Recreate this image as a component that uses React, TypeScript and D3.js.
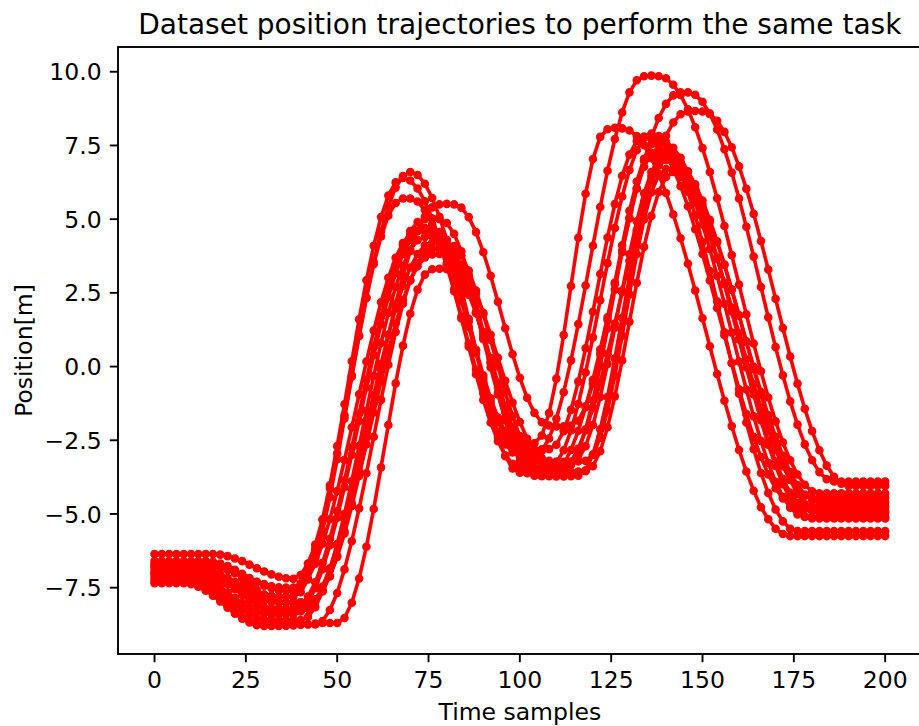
import React from "react";
import * as d3 from "d3";

const W = 919;
const H = 726;
const PLOT = { left: 118, right: 921.7, top: 47, bottom: 654 };

const xTicks = [0, 25, 50, 75, 100, 125, 150, 175, 200];
const yTicks = [-7.5, -5.0, -2.5, 0.0, 2.5, 5.0, 7.5, 10.0];
const titleText = "Dataset position trajectories to perform the same task";
const xLabel = "Time samples";
const yLabel = "Position[m]";

// sample indices (every 2nd time sample)
const timeSamples = d3.range(0, 201, 2);

const traj01 = [
  -6.36, -6.36, -6.36, -6.36, -6.36, -6.36, -6.36, -6.36, -6.36,
  -6.38, -6.43, -6.51, -6.6, -6.72, -6.84, -6.95, -7.05, -7.13, -7.18, -7.2,
  -7.07, -6.68, -6.04, -5.18, -4.13, -2.94, -1.65, -0.3, 1.05, 2.34, 3.54, 4.58, 5.44, 6.07, 6.46, 6.6,
  6.5, 6.2, 5.72, 5.08, 4.3, 3.42, 2.48, 1.52, 0.57, -0.3, -1.08, -1.73, -2.2, -2.5, -2.6,
  -2.62, -2.6,
  -2.34, -1.58, -0.41, 1.07, 2.73, 4.37, 5.86, 7.04, 7.79, 8.05,
  8.1, 8.08,
  8.01, 7.82, 7.51, 7.07, 6.53, 5.89, 5.16, 4.35, 3.49, 2.58, 1.64, 0.69, -0.25, -1.16, -2.02, -2.83, -3.56, -4.21, -4.77, -5.18, -5.5, -5.68,
  -5.75, -5.75, -5.75, -5.75, -5.75, -5.75, -5.75, -5.75, -5.75, -5.75, -5.75, -5.75, -5.75, -5.75,
];

const traj02 = [
  -6.7, -6.7, -6.7, -6.7, -6.7, -6.7, -6.7,
  -6.71, -6.75, -6.82, -6.9, -7.0, -7.1, -7.2, -7.3, -7.38, -7.45, -7.49, -7.5,
  -7.5,
  -7.35, -6.9, -6.17, -5.2, -4.03, -2.7, -1.28, 0.18, 1.6, 2.93, 4.1, 5.07, 5.8, 6.25, 6.4,
  6.31, 6.04, 5.61, 5.02, 4.31, 3.5, 2.62, 1.7, 0.78, -0.1, -0.91, -1.62, -2.21, -2.64, -2.91, -3.0,
  -3.02, -3.0,
  -2.86, -2.44, -1.77, -0.87, 0.21, 1.44, 2.75, 4.1, 5.41, 6.64, 7.72, 8.62, 9.3, 9.71, 9.85,
  9.87, 9.85,
  9.78, 9.56, 9.21, 8.73, 8.12, 7.41, 6.6, 5.71, 4.77, 3.78, 2.78, 1.77, 0.78, -0.16, -1.05, -1.86, -2.57, -3.18, -3.66, -4.01, -4.23, -4.3,
  -4.3, -4.3, -4.3, -4.3, -4.3, -4.3, -4.3, -4.3, -4.3,
];

const traj03 = [
  -6.8, -6.8, -6.8, -6.8, -6.8, -6.8,
  -6.82, -6.87, -6.95, -7.05, -7.17, -7.3, -7.43, -7.55, -7.65, -7.73, -7.78, -7.8,
  -7.8, -7.8,
  -7.65, -7.22, -6.51, -5.57, -4.43, -3.14, -1.76, -0.34, 1.04, 2.33, 3.47, 4.41, 5.12, 5.55, 5.7,
  5.7,
  5.6, 5.31, 4.83, 4.2, 3.43, 2.56, 1.63, 0.67, -0.26, -1.13, -1.9, -2.53, -3.01, -3.3, -3.4,
  -3.42, -3.42, -3.41, -3.4,
  -3.26, -2.84, -2.17, -1.27, -0.2, 0.99, 2.25, 3.51, 4.7, 5.77, 6.67, 7.34, 7.76, 7.9,
  7.82, 7.57, 7.17, 6.61, 5.93, 5.12, 4.22, 3.24, 2.21, 1.16, 0.11, -0.92, -1.9, -2.8, -3.61, -4.29, -4.85, -5.25, -5.5, -5.58,
  -5.58, -5.58, -5.58, -5.58, -5.58, -5.58, -5.58, -5.58, -5.58, -5.58, -5.58, -5.58,
];

const traj04 = [
  -7.0, -7.0, -7.0, -7.0, -7.0, -7.0,
  -7.02, -7.07, -7.15, -7.25, -7.37, -7.5, -7.63, -7.75, -7.85, -7.93, -7.98, -8.0,
  -8.0, -8.0, -8.0, -8.0,
  -7.9, -7.59, -7.1, -6.42, -5.59, -4.63, -3.56, -2.42, -1.25, -0.08, 1.06, 2.13, 3.09, 3.92, 4.6, 5.09, 5.4, 5.5,
  5.52, 5.5,
  5.39, 5.07, 4.56, 3.88, 3.08, 2.2, 1.3, 0.42, -0.38, -1.06, -1.57, -1.89, -2.0,
  -2.03, -2.03, -2.0,
  -1.84, -1.35, -0.58, 0.43, 1.59, 2.85, 4.11, 5.28, 6.28, 7.05, 7.54, 7.7,
  7.63, 7.42, 7.08, 6.61, 6.02, 5.33, 4.55, 3.7, 2.8, 1.87, 0.93, 0.0, -0.9, -1.75, -2.53, -3.22, -3.81, -4.28, -4.62, -4.83, -4.9,
  -4.9, -4.9, -4.9, -4.9, -4.9, -4.9, -4.9, -4.9, -4.9, -4.9,
];

const traj05 = [
  -6.9, -6.9, -6.9, -6.9, -6.9, -6.9, -6.9,
  -6.93, -7.02, -7.17, -7.35, -7.55, -7.75, -7.93, -8.08, -8.17, -8.2,
  -8.2, -8.2, -8.2,
  -8.1, -7.8, -7.32, -6.66, -5.84, -4.9, -3.86, -2.75, -1.6, -0.45, 0.66, 1.7, 2.64, 3.46, 4.12, 4.6, 4.9, 5.0,
  5.02, 5.0,
  4.87, 4.5, 3.91, 3.12, 2.19, 1.17, 0.13, -0.89, -1.82, -2.61, -3.2, -3.57, -3.7,
  -3.72, -3.7,
  -3.6, -3.31, -2.83, -2.18, -1.38, -0.45, 0.58, 1.67, 2.8, 3.93, 5.02, 6.05, 6.98, 7.78, 8.43, 8.91, 9.2, 9.3,
  9.3,
  9.22, 8.98, 8.58, 8.04, 7.37, 6.58, 5.7, 4.74, 3.73, 2.7, 1.67, 0.66, -0.3, -1.18, -1.97, -2.64, -3.18, -3.58, -3.82, -3.9,
  -3.9, -3.9, -3.9, -3.9, -3.9, -3.9, -3.9,
];

const traj06 = [
  -7.1, -7.1, -7.1, -7.1, -7.1, -7.1,
  -7.13, -7.2, -7.32, -7.48, -7.66, -7.84, -8.02, -8.18, -8.3, -8.37, -8.4,
  -8.4, -8.4, -8.4,
  -8.3, -8.0, -7.52, -6.87, -6.06, -5.13, -4.09, -2.99, -1.85, -0.71, 0.39, 1.43, 2.36, 3.17, 3.82, 4.3, 4.6, 4.7,
  4.7,
  4.56, 4.14, 3.49, 2.63, 1.62, 0.55, -0.52, -1.53, -2.39, -3.04, -3.46, -3.6,
  -3.62, -3.63, -3.62, -3.61, -3.6,
  -3.51, -3.23, -2.78, -2.17, -1.41, -0.54, 0.43, 1.46, 2.53, 3.59, 4.62, 5.59, 6.46, 7.22, 7.83, 8.28, 8.56, 8.65,
  8.67, 8.65,
  8.57, 8.34, 7.96, 7.44, 6.79, 6.03, 5.18, 4.26, 3.29, 2.3, 1.31, 0.34, -0.58, -1.43, -2.19, -2.84, -3.36, -3.74, -3.97, -4.05,
  -4.05, -4.05, -4.05, -4.05, -4.05,
];

const traj07 = [
  -7.2, -7.2, -7.2, -7.2, -7.2,
  -7.22, -7.29, -7.4, -7.55, -7.72, -7.9, -8.08, -8.25, -8.4, -8.51, -8.58, -8.6,
  -8.6, -8.6, -8.6, -8.6,
  -8.49, -8.16, -7.63, -6.9, -6.02, -5.0, -3.88, -2.7, -1.5, -0.32, 0.8, 1.82, 2.7, 3.43, 3.96, 4.29, 4.4,
  4.42, 4.4,
  4.29, 3.95, 3.41, 2.69, 1.85, 0.93, -0.03, -0.95, -1.79, -2.51, -3.05, -3.38, -3.5,
  -3.52, -3.52, -3.51, -3.5,
  -3.34, -2.88, -2.13, -1.15, 0.02, 1.29, 2.61, 3.88, 5.05, 6.03, 6.78, 7.24, 7.4,
  7.32, 7.09, 6.72, 6.21, 5.57, 4.82, 3.99, 3.08, 2.13, 1.15, 0.17, -0.78, -1.69, -2.52, -3.27, -3.91, -4.42, -4.79, -5.02, -5.1,
  -5.1, -5.1, -5.1, -5.1, -5.1, -5.1, -5.1, -5.1, -5.1, -5.1, -5.1,
];

const traj08 = [
  -7.0, -7.0, -7.0, -7.0, -7.0, -7.0, -7.0, -7.0,
  -7.03, -7.12, -7.27, -7.45, -7.65, -7.85, -8.03, -8.18, -8.27, -8.3,
  -8.3, -8.3, -8.3,
  -8.21, -7.92, -7.46, -6.84, -6.07, -5.18, -4.19, -3.14, -2.05, -0.97, 0.09, 1.08, 1.97, 2.74, 3.36, 3.82, 4.11, 4.2,
  4.22, 4.2,
  4.09, 3.77, 3.26, 2.58, 1.78, 0.9, 0.0, -0.88, -1.68, -2.36, -2.87, -3.19, -3.3,
  -3.32, -3.33, -3.32, -3.3,
  -3.15, -2.7, -1.98, -1.03, 0.09, 1.32, 2.58, 3.81, 4.93, 5.88, 6.6, 7.05, 7.2,
  7.13, 6.94, 6.62, 6.18, 5.63, 4.98, 4.25, 3.46, 2.61, 1.74, 0.86, -0.01, -0.86, -1.65, -2.38, -3.03, -3.58, -4.02, -4.34, -4.53, -4.6,
  -4.6, -4.6, -4.6, -4.6, -4.6, -4.6, -4.6, -4.6, -4.6,
];

const traj09 = [
  -7.3, -7.3, -7.3, -7.3, -7.3,
  -7.33, -7.42, -7.55, -7.72, -7.92, -8.13, -8.33, -8.5, -8.63, -8.72, -8.75,
  -8.75, -8.75, -8.75, -8.75, -8.75, -8.75, -8.75,
  -8.63, -8.26, -7.68, -6.88, -5.92, -4.81, -3.62, -2.38, -1.13, 0.06, 1.17, 2.13, 2.93, 3.51, 3.88, 4.0,
  4.0,
  3.9, 3.62, 3.16, 2.55, 1.82, 1.01, 0.15, -0.71, -1.52, -2.25, -2.86, -3.32, -3.6, -3.7,
  -3.72, -3.73, -3.73, -3.72, -3.7,
  -3.52, -2.98, -2.13, -1.03, 0.27, 1.65, 3.03, 4.33, 5.43, 6.28, 6.82, 7.0,
  6.92, 6.7, 6.34, 5.84, 5.22, 4.5, 3.68, 2.8, 1.88, 0.93, -0.03, -0.95, -1.83, -2.65, -3.37, -3.99, -4.49, -4.85, -5.07, -5.15,
  -5.15, -5.15, -5.15, -5.15, -5.15, -5.15, -5.15, -5.15, -5.15, -5.15,
];

const traj10 = [
  -6.75, -6.75, -6.75, -6.75, -6.75, -6.75, -6.75, -6.75, -6.75,
  -6.78, -6.87, -7.01, -7.18, -7.38, -7.57, -7.74, -7.88, -7.97, -8.0,
  -8.0, -8.0, -8.0,
  -7.9, -7.6, -7.12, -6.46, -5.66, -4.73, -3.71, -2.64, -1.56, -0.49, 0.53, 1.46, 2.26, 2.92, 3.4, 3.7, 3.8,
  3.82, 3.8,
  3.71, 3.45, 3.04, 2.48, 1.82, 1.08, 0.3, -0.48, -1.22, -1.88, -2.44, -2.85, -3.11, -3.2,
  -3.22, -3.23, -3.23, -3.22, -3.2,
  -3.0, -2.41, -1.49, -0.31, 1.05, 2.45, 3.81, 4.99, 5.91, 6.5, 6.7,
  6.63, 6.43, 6.09, 5.64, 5.07, 4.4, 3.66, 2.85, 2.0, 1.13, 0.25, -0.6, -1.41, -2.15, -2.82, -3.39, -3.84, -4.18, -4.38, -4.45,
  -4.45, -4.45, -4.45, -4.45, -4.45, -4.45, -4.45, -4.45, -4.45, -4.45,
];

const traj11 = [
  -7.35, -7.35, -7.35, -7.35, -7.35,
  -7.38, -7.47, -7.6, -7.77, -7.97, -8.18, -8.38, -8.55, -8.68, -8.77, -8.8,
  -8.8, -8.8, -8.79, -8.78, -8.76, -8.74, -8.72, -8.7, -8.7, -8.7,
  -8.53, -8.01, -7.19, -6.11, -4.83, -3.42, -1.98, -0.57, 0.71, 1.79, 2.61, 3.12, 3.3,
  3.32, 3.3,
  3.2, 2.91, 2.44, 1.82, 1.09, 0.29, -0.54, -1.34, -2.07, -2.69, -3.16, -3.45, -3.55,
  -3.57, -3.58, -3.58, -3.57, -3.56, -3.55,
  -3.38, -2.87, -2.06, -1.01, 0.21, 1.52, 2.84, 4.06, 5.11, 5.92, 6.43, 6.6,
  6.53, 6.32, 5.97, 5.5, 4.91, 4.22, 3.45, 2.61, 1.73, 0.83, -0.08, -0.96, -1.8, -2.57, -3.26, -3.85, -4.32, -4.67, -4.88, -4.95,
  -4.95, -4.95, -4.95, -4.95, -4.95, -4.95, -4.95, -4.95, -4.95,
];

const traj12 = [
  -6.6, -6.6, -6.6, -6.6, -6.6, -6.6, -6.6, -6.6,
  -6.62, -6.68, -6.77, -6.89, -7.03, -7.17, -7.31, -7.43, -7.52, -7.58, -7.6,
  -7.6,
  -7.5, -7.19, -6.69, -6.01, -5.18, -4.22, -3.17, -2.06, -0.94, 0.17, 1.22, 2.18, 3.01, 3.69, 4.19, 4.5, 4.6,
  4.6,
  4.49, 4.18, 3.67, 3.0, 2.21, 1.35, 0.45, -0.41, -1.2, -1.87, -2.38, -2.69, -2.8,
  -2.82, -2.82, -2.81, -2.8,
  -2.65, -2.19, -1.47, -0.51, 0.62, 1.86, 3.14, 4.38, 5.51, 6.47, 7.19, 7.65, 7.8,
  7.73, 7.52, 7.18, 6.71, 6.12, 5.44, 4.66, 3.82, 2.92, 1.99, 1.06, 0.13, -0.77, -1.61, -2.39, -3.07, -3.66, -4.13, -4.47, -4.68, -4.75,
  -4.75, -4.75, -4.75, -4.75, -4.75, -4.75, -4.75, -4.75, -4.75, -4.75, -4.75, -4.75,
];

const trajectories = [
  traj01, traj02, traj03, traj04, traj05, traj06,
  traj07, traj08, traj09, traj10, traj11, traj12,
];

const RED = "#ff0000";
const FONT = "'DejaVu Sans', Verdana, sans-serif";
const TICK_FS = 23.5;
const TICK_LEN = 8.2;
const TICK_PAD = 8.2;

export default function App() {
  const x = d3.scaleLinear().domain([-10, 210]).range([PLOT.left, PLOT.right]);
  const y = d3.scaleLinear().domain([-9.75, 10.84]).range([PLOT.bottom, PLOT.top]);
  const fmt = d3.format(".1f");

  const lineGen = d3
    .line<number>()
    .x((_, i) => x(timeSamples[i]))
    .y((d) => y(d));

  const midX = (PLOT.left + PLOT.right) / 2;
  const midY = (PLOT.top + PLOT.bottom) / 2;

  return (
    <svg
      width={W}
      height={H}
      viewBox={`0 0 ${W} ${H}`}
      style={{ position: "absolute", left: 0, top: 0, background: "#fff" }}
      fontFamily={FONT}
    >
      <rect x={0} y={0} width={W} height={H} fill="#fff" />
      <defs>
        <clipPath id="plotClip">
          <rect
            x={PLOT.left}
            y={PLOT.top}
            width={PLOT.right - PLOT.left}
            height={PLOT.bottom - PLOT.top}
          />
        </clipPath>
      </defs>

      <g clipPath="url(#plotClip)">
        {trajectories.map((s, si) => (
          <g key={si}>
            <path
              d={lineGen(s) || ""}
              fill="none"
              stroke={RED}
              strokeWidth={3.6}
              strokeLinejoin="round"
              strokeLinecap="square"
            />
            {s.map((v, i) => (
              <circle
                key={i}
                cx={x(timeSamples[i])}
                cy={y(v)}
                r={3.6}
                fill={RED}
                stroke={RED}
                strokeWidth={1.4}
              />
            ))}
          </g>
        ))}
      </g>

      {/* spines */}
      <rect
        x={PLOT.left}
        y={PLOT.top}
        width={PLOT.right - PLOT.left}
        height={PLOT.bottom - PLOT.top}
        fill="none"
        stroke="#000"
        strokeWidth={1.9}
      />

      {/* x ticks */}
      {xTicks.map((t) => (
        <g key={`xt${t}`}>
          <line
            x1={x(t)}
            x2={x(t)}
            y1={PLOT.bottom}
            y2={PLOT.bottom + TICK_LEN}
            stroke="#000"
            strokeWidth={1.9}
          />
          <text
            x={x(t)}
            y={PLOT.bottom + TICK_LEN + TICK_PAD + 0.76 * TICK_FS}
            textAnchor="middle"
            fontSize={TICK_FS}
            fill="#000"
          >
            {t}
          </text>
        </g>
      ))}

      {/* y ticks */}
      {yTicks.map((t) => (
        <g key={`yt${t}`}>
          <line
            x1={PLOT.left - TICK_LEN}
            x2={PLOT.left}
            y1={y(t)}
            y2={y(t)}
            stroke="#000"
            strokeWidth={1.9}
          />
          <text
            x={PLOT.left - TICK_LEN - TICK_PAD}
            y={y(t) + 0.365 * TICK_FS}
            textAnchor="end"
            fontSize={TICK_FS}
            fill="#000"
          >
            {fmt(t)}
          </text>
        </g>
      ))}

      {/* labels */}
      <text x={midX} y={720} textAnchor="middle" fontSize={TICK_FS} fill="#000">
        {xLabel}
      </text>
      <text
        transform={`translate(32, ${midY}) rotate(-90)`}
        textAnchor="middle"
        fontSize={TICK_FS}
        fill="#000"
      >
        {yLabel}
      </text>
      <text x={midX} y={34} textAnchor="middle" fontSize={28} fill="#000">
        {titleText}
      </text>
    </svg>
  );
}
